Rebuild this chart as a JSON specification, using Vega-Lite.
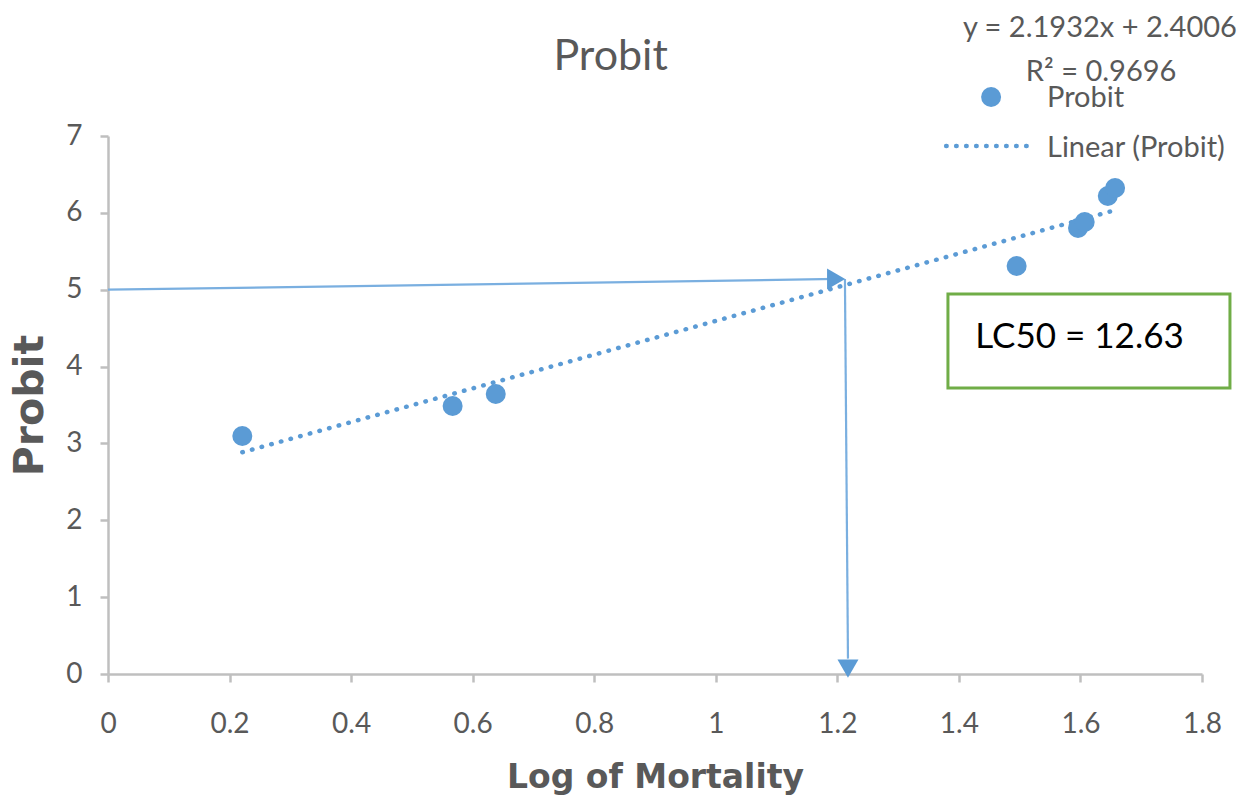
{
  "$schema": "https://vega.github.io/schema/vega-lite/v6.json",
  "width": 1094,
  "height": 538,
  "autosize": {"type": "none"},
  "padding": {"left": 108, "top": 136, "right": 36, "bottom": 131},
  "background": "white",
  "config": {
    "view": {"stroke": null},
    "axis": {
      "grid": false,
      "domainColor": "#bfbfbf",
      "domainWidth": 2.5,
      "tickColor": "#bfbfbf",
      "tickWidth": 2.5,
      "tickSize": 8,
      "labelFont": "Lato",
      "labelFontSize": 28,
      "labelColor": "#595959",
      "labelFlush": false,
      "labelOverlap": false,
      "labelBound": false,
      "titleFont": "DejaVu Sans",
      "titleFontWeight": "bold",
      "titleColor": "#595959"
    }
  },
  "datasets": {
    "points": [
      {"log_mortality": 0.221, "probit": 3.097},
      {"log_mortality": 0.567, "probit": 3.487},
      {"log_mortality": 0.638, "probit": 3.643},
      {"log_mortality": 1.495, "probit": 5.308},
      {"log_mortality": 1.596, "probit": 5.803},
      {"log_mortality": 1.607, "probit": 5.881},
      {"log_mortality": 1.645, "probit": 6.219},
      {"log_mortality": 1.657, "probit": 6.323}
    ],
    "trend": [
      {"log_mortality": 0.221, "probit": 2.885},
      {"log_mortality": 1.657, "probit": 6.035}
    ],
    "arrows": [
      {"seg": "h", "log_mortality": 0.0, "probit": 5.0},
      {"seg": "h", "log_mortality": 1.2, "probit": 5.14},
      {"seg": "v", "log_mortality": 1.2125, "probit": 5.14},
      {"seg": "v", "log_mortality": 1.2175, "probit": 0.2}
    ],
    "heads": [
      {"log_mortality": 1.198, "probit": 5.14, "shape": "triangle-right"},
      {"log_mortality": 1.2175, "probit": 0.07, "shape": "triangle-down"}
    ],
    "chartTitle": [{"log_mortality": 0.827, "probit": 7.86, "label": "Probit"}],
    "legendDot": [{"log_mortality": 1.453, "probit": 7.507}],
    "legendLine": [{"x1": 1.379, "x2": 1.517, "probit": 6.87}],
    "legendCenter": [
      {"log_mortality": 1.632, "probit": 8.40, "label": "y = 2.1932x + 2.4006"},
      {"log_mortality": 1.634, "probit": 7.83, "label": "R² = 0.9696"}
    ],
    "legendLeft": [
      {"log_mortality": 1.545, "probit": 7.49, "label": "Probit"},
      {"log_mortality": 1.545, "probit": 6.84, "label": "Linear (Probit)"}
    ],
    "box": [{"x1": 1.382, "x2": 1.846, "y1": 4.944, "y2": 3.721}],
    "boxText": [{"log_mortality": 1.427, "probit": 4.385, "label": "LC50 = 12.63"}]
  },
  "layer": [
    {
      "data": {"name": "trend"},
      "mark": {"type": "line", "color": "#5b9bd5", "strokeWidth": 4.5, "strokeDash": [0.5, 9.5], "strokeCap": "round"},
      "encoding": {
        "x": {
          "field": "log_mortality",
          "type": "quantitative",
          "scale": {"domain": [0, 1.8], "nice": false, "zero": false},
          "axis": {
            "title": "Log of Mortality",
            "titleFontSize": 33,
            "titlePadding": 23,
            "labelPadding": 28,
            "values": [0, 0.2, 0.4, 0.6, 0.8, 1, 1.2, 1.4, 1.6, 1.8],
            "format": "~g"
          }
        },
        "y": {
          "field": "probit",
          "type": "quantitative",
          "scale": {"domain": [0, 7], "nice": false, "zero": false},
          "axis": {
            "title": "Probit",
            "titleFontSize": 41,
            "titlePadding": 14,
            "labelPadding": 18,
            "values": [0, 1, 2, 3, 4, 5, 6, 7],
            "format": "~g"
          }
        }
      }
    },
    {
      "data": {"name": "arrows"},
      "mark": {"type": "line", "color": "#7aafe0", "strokeWidth": 2.2},
      "encoding": {
        "x": {"field": "log_mortality", "type": "quantitative"},
        "y": {"field": "probit", "type": "quantitative"},
        "detail": {"field": "seg"}
      }
    },
    {
      "data": {"name": "heads"},
      "mark": {"type": "point", "filled": true, "color": "#5b9bd5", "opacity": 1, "size": 440},
      "encoding": {
        "x": {"field": "log_mortality", "type": "quantitative"},
        "y": {"field": "probit", "type": "quantitative"},
        "shape": {"field": "shape", "type": "nominal", "scale": null}
      }
    },
    {
      "data": {"name": "points"},
      "mark": {"type": "circle", "color": "#5b9bd5", "opacity": 1, "size": 400},
      "encoding": {
        "x": {"field": "log_mortality", "type": "quantitative"},
        "y": {"field": "probit", "type": "quantitative"}
      }
    },
    {
      "data": {"name": "chartTitle"},
      "mark": {"type": "text", "font": "Lato", "fontSize": 43, "color": "#595959", "align": "center", "baseline": "alphabetic"},
      "encoding": {
        "x": {"field": "log_mortality", "type": "quantitative"},
        "y": {"field": "probit", "type": "quantitative"},
        "text": {"field": "label"}
      }
    },
    {
      "data": {"name": "legendDot"},
      "mark": {"type": "circle", "color": "#5b9bd5", "opacity": 1, "size": 400},
      "encoding": {
        "x": {"field": "log_mortality", "type": "quantitative"},
        "y": {"field": "probit", "type": "quantitative"}
      }
    },
    {
      "data": {"name": "legendLine"},
      "mark": {"type": "rule", "color": "#5b9bd5", "strokeWidth": 4.5, "strokeDash": [0.5, 9.5], "strokeCap": "round"},
      "encoding": {
        "x": {"field": "x1", "type": "quantitative"},
        "x2": {"field": "x2"},
        "y": {"field": "probit", "type": "quantitative"}
      }
    },
    {
      "data": {"name": "legendCenter"},
      "mark": {"type": "text", "font": "Lato", "fontSize": 29, "color": "#595959", "align": "center", "baseline": "middle"},
      "encoding": {
        "x": {"field": "log_mortality", "type": "quantitative"},
        "y": {"field": "probit", "type": "quantitative"},
        "text": {"field": "label"}
      }
    },
    {
      "data": {"name": "legendLeft"},
      "mark": {"type": "text", "font": "Lato", "fontSize": 29, "color": "#595959", "align": "left", "baseline": "middle"},
      "encoding": {
        "x": {"field": "log_mortality", "type": "quantitative"},
        "y": {"field": "probit", "type": "quantitative"},
        "text": {"field": "label"}
      }
    },
    {
      "data": {"name": "box"},
      "mark": {"type": "rect", "fill": "white", "stroke": "#70ad47", "strokeWidth": 3},
      "encoding": {
        "x": {"field": "x1", "type": "quantitative"},
        "x2": {"field": "x2"},
        "y": {"field": "y1", "type": "quantitative"},
        "y2": {"field": "y2"}
      }
    },
    {
      "data": {"name": "boxText"},
      "mark": {"type": "text", "font": "Lato", "fontSize": 35, "color": "#000000", "align": "left", "baseline": "middle"},
      "encoding": {
        "x": {"field": "log_mortality", "type": "quantitative"},
        "y": {"field": "probit", "type": "quantitative"},
        "text": {"field": "label"}
      }
    }
  ]
}
